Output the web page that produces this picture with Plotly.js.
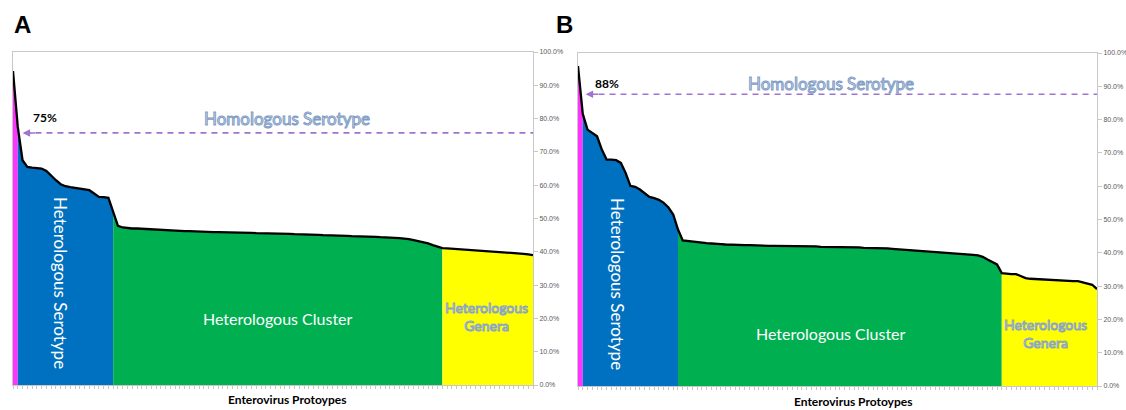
<!DOCTYPE html>
<html><head><meta charset="utf-8">
<script src="https://cdn.plot.ly/plotly-3.0.1.min.js"></script>
<style>html,body{margin:0;padding:0;background:#fff}</style>
</head><body><div id="chart" style="width:1126px;height:410px"></div>
<script>
// ---- data (percent identity, sorted, per prototype index) ----
const panelA = [94.3,77.5,67.5,65.5,65.3,65.2,65.0,64.3,62.8,61.5,60.3,59.7,59.4,59.2,59.1,58.9,58.5,57.5,56.5,56.4,56.2,52.0,
  47.8,47.3,47.1,47.0,47.0,46.9,46.8,46.7,46.6,46.6,46.5,46.4,46.3,46.3,46.2,46.2,46.1,46.1,46.0,46.0,45.9,45.9,45.9,45.8,45.8,45.8,45.7,45.7,45.7,45.6,45.6,45.6,
  45.5,45.5,45.5,45.4,45.4,45.3,45.3,45.2,45.2,45.1,45.1,45.0,45.0,44.9,44.9,44.8,44.8,44.7,44.7,44.6,44.6,44.5,44.5,44.4,44.4,44.3,44.2,44.1,44.0,43.8,43.5,43.2,43.0,42.5,42.0,41.6,41.1,
  41.0,40.9,40.8,40.7,40.6,40.5,40.4,40.3,40.2,40.1,40.1,40.0,40.0,39.9,39.8,39.6,39.4,39.2,39.0];
const panelB = [96.1,81.7,77.0,76.0,75.0,71.0,68.0,68.0,67.8,67.0,64.0,60.1,59.8,59.0,57.8,56.8,56.4,55.9,55.0,53.6,51.5,47.0,
  43.7,43.5,43.4,43.2,43.0,42.9,42.8,42.6,42.6,42.5,42.4,42.4,42.3,42.3,42.3,42.2,42.2,42.2,42.1,42.1,42.1,42.0,42.0,42.0,42.0,41.9,41.9,41.9,41.9,41.8,41.8,41.8,41.8,41.7,41.7,41.7,41.6,41.6,41.5,41.5,41.4,41.4,41.3,41.3,41.2,41.1,41.0,41.0,40.9,40.8,40.7,40.6,40.5,40.4,40.3,40.2,40.0,39.9,39.9,39.8,39.6,39.4,39.2,38.8,38.0,37.3,36.5,
  33.9,33.7,33.6,33.6,33.0,32.4,32.2,32.1,32.1,32.1,32.0,31.8,31.6,31.5,31.5,31.5,31.5,31.2,30.7,30.4,29.1];
// group boundaries (index where each group ends): homologous, heterologous serotype, cluster, genera
const groupEndsA = [1, 21, 90, 110];
const groupEndsB = [1, 21, 89, 110];
const groupNames = ["Homologous Serotype","Heterologous Serotype","Heterologous Cluster","Heterologous Genera"];
const homologousLabel = ["75%","88%"];
const homologousLevel = [75.7, 87.6];
const yTicks = [0,10,20,30,40,50,60,70,80,90,100];

const groupColors = ["#ff33ff","#0070c0","#00b050","#ffff00"];
const W = 1126, H = 410;
const px = x => x / W, py = y => 1 - y / H;

const traces = [];
function addPanel(vals, ends, xa, ya) {
  let start = 0;
  ends.forEach((e, g) => {
    const xs = [], ys = [];
    for (let i = start; i <= e; i++) { xs.push(i); ys.push(vals[i]); }
    traces.push({type:'scatter', mode:'none', x:xs, y:ys, fill:'tozeroy', fillcolor:groupColors[g],
      xaxis:xa, yaxis:ya, hoverinfo:'skip', showlegend:false, name:groupNames[g]});
    start = e;
  });
  traces.push({type:'scatter', mode:'lines', x:vals.map((v,i)=>i), y:vals, line:{color:'#000', width:2.3},
    xaxis:xa, yaxis:ya, showlegend:false});
}
addPanel(panelA, groupEndsA, 'x', 'y');
addPanel(panelB, groupEndsB, 'x2', 'y2');

const N = panelA.length - 1;
const xBase = {range:[0, N], showgrid:false, zeroline:false, showline:true, mirror:true, linecolor:'#c8c8c8', linewidth:1,
  ticks:'outside', ticklen:3, tickcolor:'#c8c8c8', tickmode:'linear', tick0:0, dtick:1, showticklabels:false, fixedrange:true};
const yBase = {range:[0,100], showgrid:false, zeroline:false, showline:true, mirror:true, linecolor:'#c8c8c8', linewidth:1,
  side:'right', ticks:'outside', ticklen:4, tickcolor:'#c8c8c8', tickmode:'array', tickvals:yTicks,
  ticktext:yTicks.map(v=>v.toFixed(1)+'%'), tickfont:{family:'Liberation Sans, Arial', size:7, color:'#595959'}, fixedrange:true};

const outline = (txt, fill, stroke, sw) => `<span style="fill:${fill};stroke:${stroke};stroke-width:${sw}px">${txt}</span>`;

const ann = [];
const lbl = (text, x, y, size, opts={}) => ann.push(Object.assign({xref:'paper', yref:'paper', x:px(x), y:py(y), text,
  showarrow:false, xanchor:'center', yanchor:'middle', font:{family:'Lato, Noto Sans, sans-serif', size, color:'#000'}}, opts));

lbl('<b>A</b>', 22, 24, 24, {font:{family:'Liberation Sans, Arial', size:24, color:'#000'}});
lbl('<b>B</b>', 564, 24, 24, {font:{family:'Liberation Sans, Arial', size:24, color:'#000'}});
lbl('<b>'+homologousLabel[0]+'</b>', 45, 117, 12);
lbl('<b>'+homologousLabel[1]+'</b>', 607, 84, 12);
lbl(outline(groupNames[0], '#dce6f2', '#7f9cc5', 1), 287, 118, 17);
lbl(outline(groupNames[0], '#dce6f2', '#7f9cc5', 1), 831, 84, 17);
lbl(groupNames[1], 61, 283, 17, {textangle:90, font:{family:'Lato, Noto Sans, sans-serif', size:17, color:'#ffffff'}});
lbl(groupNames[1], 618, 284, 17, {textangle:90, font:{family:'Lato, Noto Sans, sans-serif', size:17, color:'#ffffff'}});
lbl(groupNames[2], 278, 318, 16, {font:{family:'Lato, Noto Sans, sans-serif', size:16, color:'#ffffff'}});
lbl(groupNames[2], 831, 333, 16, {font:{family:'Lato, Noto Sans, sans-serif', size:16, color:'#ffffff'}});
lbl(outline('Heterologous', '#f4f4c8', '#8aa4c4', 1)+'<br>'+outline('Genera', '#f4f4c8', '#8aa4c4', 1), 486, 316, 14);
lbl(outline('Heterologous', '#f4f4c8', '#8aa4c4', 1)+'<br>'+outline('Genera', '#f4f4c8', '#8aa4c4', 1), 1045, 333, 14);
lbl('<b>Enterovirus Protoypes</b>', 287, 399, 12);
lbl('<b>Enterovirus Protoypes</b>', 853, 401, 12);

// arrows (heads)
ann.push({xref:'x', yref:'y', x:2.0, y:homologousLevel[0], ax:14, ay:0, text:'', showarrow:true, arrowhead:2, arrowsize:1, arrowwidth:1.5, arrowcolor:'#9e74d0'});
ann.push({xref:'x2', yref:'y2', x:1.6, y:homologousLevel[1], ax:14, ay:0, text:'', showarrow:true, arrowhead:2, arrowsize:1, arrowwidth:1.5, arrowcolor:'#9e74d0'});

const shapes = [
  {type:'line', xref:'x', yref:'y', x0:2.4, x1:N, y0:homologousLevel[0], y1:homologousLevel[0], line:{color:'#9e74d0', width:1.6, dash:'6px,5px'}},
  {type:'line', xref:'x2', yref:'y2', x0:2.0, x1:N, y0:homologousLevel[1], y1:homologousLevel[1], line:{color:'#9e74d0', width:1.6, dash:'6px,5px'}}
];

const layout = {
  width:W, height:H, margin:{l:0,r:0,t:0,b:0}, paper_bgcolor:'#fff', plot_bgcolor:'#fff', showlegend:false,
  xaxis:Object.assign({}, xBase, {domain:[px(13), px(533)], anchor:'y'}),
  yaxis:Object.assign({}, yBase, {domain:[py(385), py(52)], anchor:'x'}),
  xaxis2:Object.assign({}, xBase, {domain:[px(578), px(1097)], anchor:'y2'}),
  yaxis2:Object.assign({}, yBase, {domain:[py(386), py(53)], anchor:'x2'}),
  annotations:ann, shapes
};
Plotly.newPlot('chart', traces, layout, {displayModeBar:false, staticPlot:true});
</script></body></html>
